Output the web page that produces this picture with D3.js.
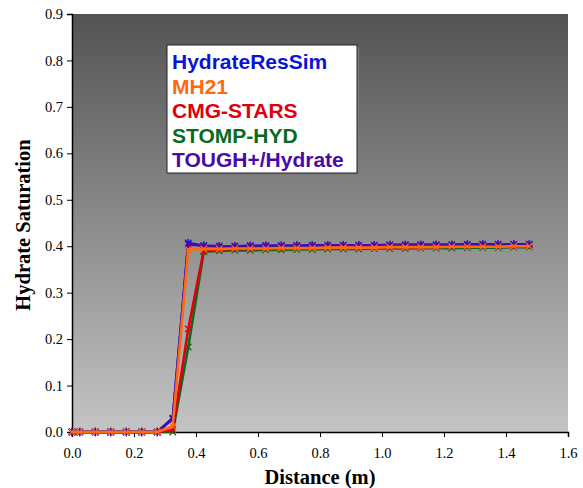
<!DOCTYPE html>
<html>
<head>
<meta charset="utf-8">
<script src="https://cdn.jsdelivr.net/npm/d3@7"></script>
<style>
  html, body { margin: 0; padding: 0; background: #fff; }
  svg { display: block; }
</style>
</head>
<body>
<svg id="chart" width="583" height="488"></svg>
<script>
// Grid-block centres along the core (m)
const distance = [0, 0.025, 0.075, 0.125, 0.175, 0.225, 0.275, 0.325, 0.375, 0.425,
  0.475, 0.525, 0.575, 0.625, 0.675, 0.725, 0.775, 0.825, 0.875, 0.925,
  0.975, 1.025, 1.075, 1.125, 1.175, 1.225, 1.275, 1.325, 1.375, 1.425, 1.475];

const hydrateResSim = [0, 0, 0, 0, 0, 0, 0, 0.030, 0.407, 0.401,
  0.400, 0.400, 0.401, 0.401, 0.401, 0.401, 0.402, 0.402, 0.402, 0.402,
  0.402, 0.403, 0.403, 0.403, 0.403, 0.403, 0.404, 0.404, 0.404, 0.404, 0.404];
const mh21 = [0, 0, 0, 0, 0, 0, 0, 0.012, 0.393, 0.394,
  0.394, 0.395, 0.395, 0.395, 0.396, 0.396, 0.396, 0.397, 0.397, 0.397,
  0.397, 0.398, 0.398, 0.398, 0.398, 0.399, 0.399, 0.399, 0.399, 0.400, 0.400];
const cmgStars = [0, 0, 0, 0, 0, 0, 0, 0.005, 0.222, 0.391,
  0.393, 0.394, 0.394, 0.395, 0.395, 0.396, 0.396, 0.396, 0.397, 0.397,
  0.397, 0.398, 0.398, 0.398, 0.399, 0.399, 0.399, 0.400, 0.400, 0.400, 0.401];
const stompHyd = [0, 0, 0, 0, 0, 0, 0, 0.000, 0.183, 0.388,
  0.390, 0.391, 0.391, 0.392, 0.392, 0.393, 0.393, 0.394, 0.394, 0.394,
  0.395, 0.395, 0.395, 0.396, 0.396, 0.396, 0.397, 0.397, 0.397, 0.398, 0.398];
const toughHydrate = [0, 0, 0, 0, 0, 0, 0, 0.028, 0.404, 0.401,
  0.400, 0.400, 0.400, 0.401, 0.401, 0.401, 0.401, 0.402, 0.402, 0.402,
  0.402, 0.402, 0.403, 0.403, 0.403, 0.403, 0.403, 0.404, 0.404, 0.404, 0.404];

const seriesNames = ["HydrateResSim", "MH21", "CMG-STARS", "STOMP-HYD", "TOUGH+/Hydrate"];
const seriesColors = ["#0a14d2", "#ff6a10", "#e0000c", "#0a6a1e", "#4a0aaa"];
const xTicks = [0, 0.2, 0.4, 0.6, 0.8, 1.0, 1.2, 1.4, 1.6];
const yTicks = [0, 0.1, 0.2, 0.3, 0.4, 0.5, 0.6, 0.7, 0.8, 0.9];

const series = [
  { name: seriesNames[3], color: seriesColors[3], values: stompHyd, marker: "x" },
  { name: seriesNames[2], color: seriesColors[2], values: cmgStars, marker: "x" },
  { name: seriesNames[0], color: seriesColors[0], values: hydrateResSim, marker: "star" },
  { name: seriesNames[4], color: seriesColors[4], values: toughHydrate, marker: "star" },
  { name: seriesNames[1], color: seriesColors[1], values: mh21, marker: "x" }
];

const svg = d3.select("#chart");
const plotLeft = 72, plotRight = 568, plotTop = 14, plotBottom = 432;

const x = d3.scaleLinear().domain([0, 1.6]).range([plotLeft, plotRight]);
const y = d3.scaleLinear().domain([0, 0.9]).range([plotBottom, plotTop]);

// Plot-area background: dark at the top, light at the bottom
const defs = svg.append("defs");
const grad = defs.append("linearGradient")
  .attr("id", "plotBg").attr("x1", 0).attr("y1", 0).attr("x2", 0).attr("y2", 1);
grad.append("stop").attr("offset", "0%").attr("stop-color", "#535353");
grad.append("stop").attr("offset", "100%").attr("stop-color", "#c4c4c4");

svg.append("rect")
  .attr("x", plotLeft).attr("y", plotTop)
  .attr("width", plotRight - plotLeft).attr("height", plotBottom - plotTop)
  .attr("fill", "url(#plotBg)");

// Axes
const axisFont = "'Liberation Serif', 'Times New Roman', serif";
const xAxis = svg.append("g")
  .attr("transform", `translate(0,${plotBottom})`)
  .call(d3.axisBottom(x).tickValues(xTicks).tickFormat(d3.format(".1f")).tickSizeOuter(0).tickSize(5));
const yAxis = svg.append("g")
  .attr("transform", `translate(${plotLeft},0)`)
  .call(d3.axisLeft(y).tickValues(yTicks).tickFormat(d3.format(".1f")).tickSizeOuter(0).tickSize(5));

[xAxis, yAxis].forEach(g => {
  g.select(".domain").attr("stroke", "#000").attr("stroke-width", 1.5);
  g.selectAll(".tick line").attr("stroke", "#000").attr("stroke-width", 1);
  g.selectAll(".tick text")
    .attr("fill", "#000")
    .style("font-family", axisFont)
    .style("font-size", "14.5px");
});
xAxis.selectAll(".tick text").attr("dy", "1.25em");
yAxis.selectAll(".tick text").attr("x", -9);

// Axis titles
svg.append("text")
  .attr("x", (plotLeft + plotRight) / 2).attr("y", 484)
  .attr("text-anchor", "middle")
  .style("font-family", axisFont).style("font-size", "20.5px").style("font-weight", "bold")
  .text("Distance (m)");
svg.append("text")
  .attr("transform", `translate(30,${(plotTop + plotBottom) / 2 + 2}) rotate(-90)`)
  .attr("text-anchor", "middle")
  .style("font-family", axisFont).style("font-size", "20.5px").style("font-weight", "bold")
  .text("Hydrate Saturation");

// Series lines and markers
const line = d3.line()
  .x((d, i) => x(distance[i]))
  .y(d => y(d));

const plot = svg.append("g");
series.forEach(s => {
  plot.append("path")
    .datum(s.values)
    .attr("fill", "none")
    .attr("stroke", s.color)
    .attr("stroke-width", 2.6)
    .attr("stroke-linejoin", "round")
    .attr("d", line);

  const r = 3.2;
  const marks = plot.append("g").selectAll("g")
    .data(s.values)
    .join("g")
    .attr("transform", (d, i) => `translate(${x(distance[i])},${y(d)})`);
  const shape = s.marker === "star"
    ? `M${-r},${-r}L${r},${r}M${-r},${r}L${r},${-r}M0,${-r - 1}L0,${r + 1}`
    : `M${-r},${-r}L${r},${r}M${-r},${r}L${r},${-r}`;
  marks.append("path")
    .attr("d", shape)
    .attr("stroke", s.color)
    .attr("stroke-width", 1.3)
    .attr("fill", "none");
});

// Legend
const legend = svg.append("g");
legend.append("rect")
  .attr("x", 169).attr("y", 47).attr("width", 190).attr("height", 128)
  .attr("fill", "#7a7a7a");
legend.append("rect")
  .attr("x", 167).attr("y", 45).attr("width", 190).attr("height", 128)
  .attr("fill", "#fff").attr("stroke", "#222").attr("stroke-width", 1);
seriesNames.forEach((name, i) => {
  legend.append("text")
    .attr("x", 172).attr("y", 69 + i * 24.5)
    .attr("fill", seriesColors[i])
    .style("font-family", "'Liberation Sans', Arial, sans-serif")
    .style("font-size", "21px").style("font-weight", "bold")
    .text(name);
});
</script>
</body>
</html>
